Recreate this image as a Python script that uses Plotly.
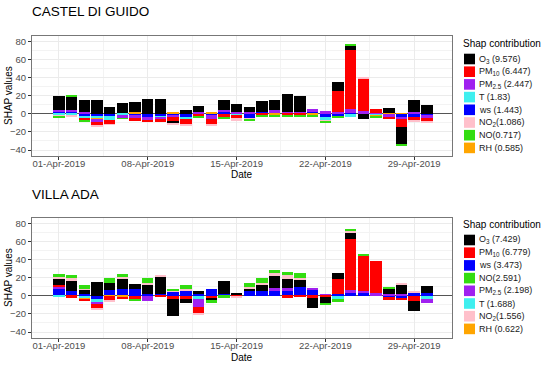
import plotly.graph_objects as go
import pandas as pd

dates = pd.date_range("2019-04-01", "2019-04-30", freq="D")

# ---- CASTEL DI GUIDO (top) ----
cdg_ws   = [2, 2, -3.5, -2, -2, 1, -1, -3.5, -2.5, -2, -4.5, 0, -1, 2, 0, -5, 2, 1, 0, 0, 2, -4, -3.5, 1, -0.5, 0, -0.5, -3, -3, -1.5]
cdg_T    = [-2, -2, -1, -3.5, -5, -1.5, 0, 0, -1.5, 0, -1, 0, 0, 0, -1.5, 0, 0, 0, 0, 0, 0, -3, 0, -3, 0, -1.5, 0, 0, 0, 0]
cdg_RH   = [0, 0, 0, -0.5, 0, 0, 2.5, 0, 0, 1.5, 0, 0, 1.5, 0, 0, 0, 0, -1.5, 0, 0, -1.5, 0, 0, 0, 0, -1.5, 0.5, 0.5, 0, 0]
cdg_PM25 = [2.5, 2, 2.5, -3.5, 0, -3.5, -4, -3.5, -2, -2, 0, 2, -5, 2, 2, 1.5, 0, 3, 2, 2, 3.5, 3.5, 2, 4, 3, 1, -2.5, -3, 2, -3]
cdg_PM10 = [0, 0, -2.5, -3.5, -4.5, 0, -3, -2.5, -3, -5, -6.5, -3, -6, -3, -3, 0, -2, 0, -1.5, -1.5, 0, 0, 23, 65, 36, 4.5, -2.5, -9, -4, -3.5]
cdg_O3   = [15, 15.5, 12.5, 15, 7, 11, 11, 16, 16.5, -2, 4.5, 6.5, 0, 11, 8.5, 6.5, 12, 11, 20, 17.5, 0, 0, 10, 5.5, -5.5, 0, 5.5, -18.5, 13, 9.5]
cdg_NO2  = [-0.5, -1, 0, -1.5, -0.5, 0, 0, 0, 0, -1.5, -0.5, 0, -1.5, 0, -3, -1, 0, 0, 0, 0, 0, -1.5, 0, 0, 1.5, -0.5, 0, 0, -1.5, -2]
cdg_NO   = [-1.5, 1, -2, 0, 0, -0.5, 0, 0, 0, 0, 0, -1.5, 0, -3, 0, -1.5, -2, -1.5, -2, -1.5, -1.5, -1, -1.5, 1.5, 0, -1.5, 0, -1.5, 0, 0]

# ---- VILLA ADA (bottom) ----
va_ws   = [7, 5, 2.5, -3, 6, 7, 7, 2, 1.5, 4.5, 6, 2, 7.5, 2, -0.5, 6, 5.5, 5, 5, 10, 7, 0, 1.5, 3.5, 3, 0, -1.5, -2, 3.5, 3.5]
va_T    = [-1.5, 0, -3.5, -4, 0, 0, 0, 0, 0, 0, 0, -3.5, 0, 0, 0, 0, 0, 0, 0, 0, 0, 0, -4.5, 0, 0, 0, 0, 0, 0, -4]
va_RH   = [0, 0, -0.5, 0, -0.5, -1, 0, 0, 0, 0, 0, 0, 0, 0, 0, 0, 0, 0, 0, 0, 0, 0, 0, 0, 0, 0, 0, 0, 0, 0]
va_PM25 = [3, 0, 0, -2, 0, 0, 0, -6, 0, 0, 0, -8.5, 0, 0, 0, 0, 0, 4, 4, 0, 2, 2, 0, 3, 2.5, 3.5, 1.5, 2, 0, -4]
va_PM10 = [2, -2, -2, -5.5, -4, -2.5, -3, 0, -1, -3.5, -3, -8, -3, 0, 1, 0, 0, 0, -2, -1, -2, -1.5, 16.5, 56, 39.5, 35, -3.5, -3, -5.5, 0]
va_O3   = [6, 11.5, 4, 15.5, 8.5, 12, 6.5, 10, 19.5, -18.5, -4.5, 3.5, -2, 14, 1, 2, 6.5, 13, 9.5, 8, -11, -7.5, 7.5, 7, 0, 0, 5.5, 11, -11, 7]
va_NO2  = [2.5, 3, 1.5, -0.5, -2.5, 1.5, 0, 2.5, 1, 1, 1.5, -1.5, 0, 0, -1.5, 2, 2.5, 3.5, 4, 2, 0, 0, 0, 2.5, 0, 0, 0, 1, 1.5, 0]
va_NO   = [3.5, 3, 4, 0, 5, 4, -3, 5, 0, 2.5, 4, 0, -2.5, -2, 0, 4.5, 5, 3.5, 4, 5.5, 0, -1, -2, 2, 1, 0, 3, 0, 0, 0]

# stacking order (closest to zero first)
stack_keys = ["ws", "T", "RH", "PM25", "PM10", "O3", "NO2", "NO"]
colors = {"O3": "#000000", "PM10": "#FF0000", "PM25": "#A020F0", "T": "#3FEFEF",
          "ws": "#0000FF", "NO2": "#FFC0CB", "NO": "#33DD11", "RH": "#FFA500"}

cdg = {"ws": cdg_ws, "T": cdg_T, "RH": cdg_RH, "PM25": cdg_PM25, "PM10": cdg_PM10,
       "O3": cdg_O3, "NO2": cdg_NO2, "NO": cdg_NO}
va = {"ws": va_ws, "T": va_T, "RH": va_RH, "PM25": va_PM25, "PM10": va_PM10,
      "O3": va_O3, "NO2": va_NO2, "NO": va_NO}

# legend entries
cdg_legend_keys = ["O3", "PM10", "PM25", "T", "ws", "NO2", "NO", "RH"]
cdg_legend_text = ["O<sub>3</sub> (9.576)", "PM<sub>10</sub> (6.447)", "PM<sub>2.5</sub> (2.447)",
                   "T (1.83)", "ws (1.443)", "NO<sub>2</sub>(1.086)", "NO(0.717)", "RH (0.585)"]
va_legend_keys = ["O3", "PM10", "ws", "NO", "PM25", "T", "NO2", "RH"]
va_legend_text = ["O<sub>3</sub> (7.429)", "PM<sub>10</sub> (6.779)", "ws (3.473)", "NO(2.591)",
                  "PM<sub>2.5</sub> (2.198)", "T (1.688)", "NO<sub>2</sub>(1.556)", "RH (0.622)"]

W, H = 550, 366
FONT = "Liberation Sans, Arial, sans-serif"

fig = go.Figure()
for data, xa, ya in [(cdg, "x", "y"), (va, "x2", "y2")]:
    for k in stack_keys:
        fig.add_trace(go.Bar(x=dates, y=data[k], marker=dict(color=colors[k], line=dict(width=0)),
                             width=0.9 * 86400000, xaxis=xa, yaxis=ya, showlegend=False, name=k))

def px2x(px):
    return px / W

def px2y(py):
    return 1 - py / H

xdom = [px2x(32), px2x(452)]
y1dom = [px2y(156), px2y(36)]
y2dom = [px2y(338), px2y(218)]

xrange = ["2019-03-29 21:00", "2019-05-01 23:30"]
yrange = [-46.6, 85.9]

xcommon = dict(type="date", range=xrange, domain=xdom, tickformat="%d-%b-%Y", automargin=False,
               tick0="2019-04-01", dtick=7 * 86400000, showgrid=True, gridcolor="#EBEBEB",
               gridwidth=1, ticks="outside", ticklen=3, tickcolor="#333333",
               ticklabelstandoff=-4,
               tickfont=dict(size=9.5, color="#4D4D4D", family=FONT),
               minor=dict(showgrid=True, gridcolor="#F3F3F3", tick0="2019-04-01", dtick=3.5 * 86400000),
               showline=True, mirror=True, linecolor="#777777", linewidth=1, zeroline=False)
ycommon = dict(range=yrange, tickvals=[-40, -20, 0, 20, 40, 60, 80], showgrid=True, automargin=False,
               gridcolor="#EBEBEB", ticks="outside", ticklen=3, tickcolor="#333333",
               tickfont=dict(size=9.5, color="#4D4D4D", family=FONT),
               minor=dict(showgrid=True, gridcolor="#F3F3F3", tickvals=[-30, -10, 10, 30, 50, 70]),
               showline=True, mirror=True, linecolor="#777777", linewidth=1,
               zeroline=True, zerolinecolor="#555555", zerolinewidth=1)

fig.update_layout(
    width=W, height=H, margin=dict(l=0, r=0, t=0, b=0, autoexpand=False),
    paper_bgcolor="white", plot_bgcolor="white", barmode="relative", bargap=0,
    showlegend=False, font=dict(family=FONT),
    xaxis=dict(xcommon, anchor="y"), yaxis=dict(ycommon, domain=y1dom, anchor="x"),
    xaxis2=dict(xcommon, anchor="y2"), yaxis2=dict(ycommon, domain=y2dom, anchor="x2"),
)

def note(text, x, y, size, color="#000", xanchor="left", angle=0):
    return dict(text=text, x=px2x(x), y=px2y(y), xref="paper", yref="paper", xanchor=xanchor,
                yanchor="middle", showarrow=False, textangle=angle, borderpad=0,
                font=dict(size=size, color=color, family=FONT))

annotations = [
    note("CASTEL DI GUIDO", 31, 11, 13.5),
    note("VILLA ADA", 31, 194, 13.5),
    note("Date", 242, 174, 10, xanchor="center"),
    note("Date", 242, 357, 10, xanchor="center"),
    note("SHAP values", 8, 96, 10, xanchor="center", angle=-90),
    note("SHAP values", 8, 278, 10, xanchor="center", angle=-90),
]
shapes = []

def add_legend(keys, texts, top):
    annotations.append(note("Shap contribution", 462, top, 10))
    for i, (k, t) in enumerate(zip(keys, texts)):
        cy = top + 16 + i * 12.7
        shapes.append(dict(type="rect", xref="paper", yref="paper", x0=px2x(464), x1=px2x(475),
                           y0=px2y(cy + 5.3), y1=px2y(cy - 5.3), fillcolor=colors[k], line=dict(width=0)))
        annotations.append(note(t, 478, cy, 9, color="#1A1A1A"))

add_legend(cdg_legend_keys, cdg_legend_text, 43)
add_legend(va_legend_keys, va_legend_text, 224)

fig.update_layout(annotations=annotations, shapes=shapes)
fig.write_html("out.html", config={"displayModeBar": False},
               post_script="document.body.style.margin='0px';document.body.style.overflow='hidden';")
